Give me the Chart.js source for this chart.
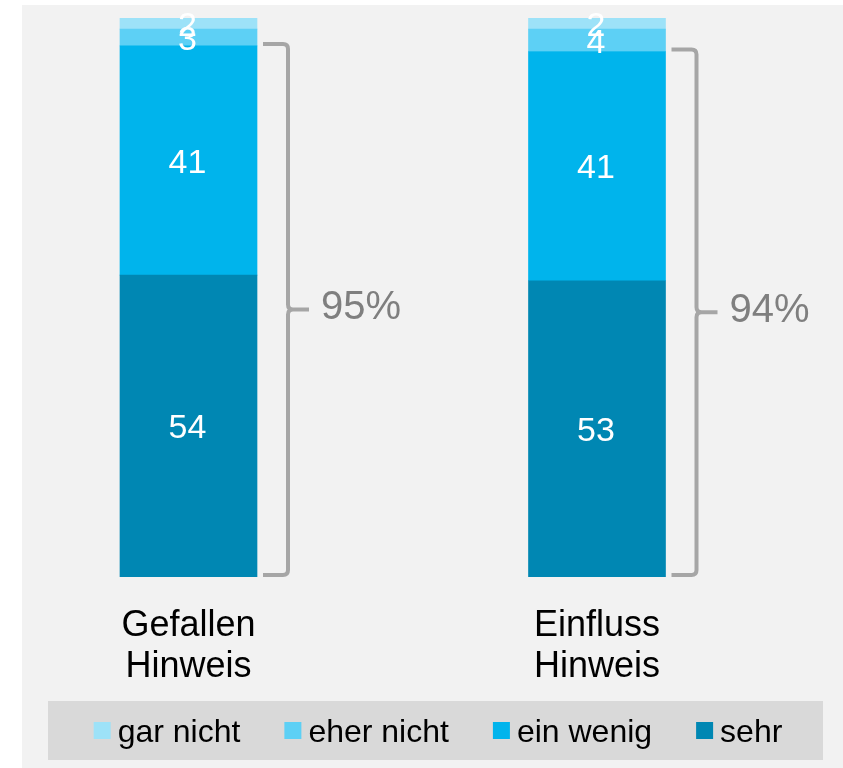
<!DOCTYPE html>
<html><head><meta charset="utf-8">
<script src="https://cdn.jsdelivr.net/npm/chart.js@4.4.1/dist/chart.umd.min.js"></script>
<style>
html,body{margin:0;padding:0;background:#fff;overflow:hidden;width:843px;height:768px}
#panel{position:absolute;left:22px;top:5px;width:821px;height:763px;background:#f2f2f2}
#wrap{position:absolute;left:-24px;top:0;width:880px;height:768px}
</style></head><body>
<div id="panel"></div>
<div id="wrap"><canvas id="c" width="880" height="768"></canvas></div>
<script>
const categories = [["Gefallen","Hinweis"],["Einfluss","Hinweis"]];
const seriesNames = ["sehr","ein wenig","eher nicht","gar nicht"];
const sehr = [54,53];
const einWenig = [41,41];
const eherNicht = [3,4];
const garNicht = [2,2];
const seriesColors = ["#0087b3","#00b4ec","#5dd0f5","#9de2f8"];

const FONT = '"Liberation Sans", Arial, sans-serif';
const OFF = 24; // canvas offset relative to page

const overlay = {
  id: 'overlay',
  afterDatasetsDraw(chart) {
    const ctx = chart.ctx, xs = chart.scales.x, ys = chart.scales.y;
    ctx.save();
    // segment labels
    ctx.fillStyle = '#ffffff';
    ctx.font = '34px ' + FONT;
    ctx.textAlign = 'center';
    ctx.textBaseline = 'alphabetic';
    chart.data.datasets.forEach((ds, di) => {
      const meta = chart.getDatasetMeta(di);
      meta.data.forEach((bar, i) => {
        const p = bar.getProps(['x','y','base'], true);
        const cy = (p.y + p.base) / 2;
        ctx.fillText(String(ds.data[i]), p.x - 1, cy + 34 * 0.358);
      });
    });
    // category labels
    ctx.fillStyle = '#000000';
    ctx.font = '36px ' + FONT;
    categories.forEach((lines, i) => {
      const x = xs.getPixelForValue(i);
      lines.forEach((t, li) => ctx.fillText(t, x, 636 + li * 41));
    });
    // brackets
    const meta0 = chart.getDatasetMeta(0);
    categories.forEach((c, i) => {
      const bar = meta0.data[i];
      const right = bar.x + bar.width / 2;
      const total = sehr[i] + einWenig[i];
      const top = ys.getPixelForValue(total) - 2;
      const bottom = ys.getPixelForValue(0) - 2;
      const mid = (top + bottom) / 2;
      const x0 = right + 6, xv = right + 31, xt = right + 52;
      const r = 5;
      ctx.strokeStyle = '#a6a6a6';
      ctx.lineWidth = 4;
      ctx.lineCap = 'butt';
      ctx.lineJoin = 'round';
      ctx.beginPath();
      ctx.moveTo(x0, top);
      ctx.lineTo(xv - r, top);
      ctx.quadraticCurveTo(xv, top, xv, top + r);
      ctx.lineTo(xv, mid - r);
      ctx.quadraticCurveTo(xv, mid, xv + r, mid);
      ctx.lineTo(xt, mid);
      ctx.moveTo(xv + r, mid);
      ctx.quadraticCurveTo(xv, mid, xv, mid + r);
      ctx.lineTo(xv, bottom - r);
      ctx.quadraticCurveTo(xv, bottom, xv - r, bottom);
      ctx.lineTo(x0, bottom);
      ctx.stroke();
      ctx.fillStyle = '#7f7f7f';
      ctx.font = '40px ' + FONT;
      ctx.textAlign = 'left';
      ctx.fillText(total + '%', right + 64, mid + 10);
      ctx.textAlign = 'center';
    });
    // legend
    const bx0 = 48 + OFF, bx1 = 823 + OFF, by0 = 701, by1 = 760;
    ctx.fillStyle = '#d9d9d9';
    ctx.fillRect(bx0, by0, bx1 - bx0, by1 - by0);
    ctx.font = '32px ' + FONT;
    const items = chart.data.datasets.map((d) => ({label: d.label, color: d.backgroundColor})).reverse();
    const sq = 17, gapT = 7, gapI = 44;
    const widths = items.map(it => sq + gapT + ctx.measureText(it.label).width);
    const totalW = widths.reduce((a, b) => a + b, 0) + gapI * (items.length - 1);
    let x = 438 + OFF - totalW / 2;
    const cy = 730.5;
    ctx.textAlign = 'left';
    ctx.textBaseline = 'alphabetic';
    items.forEach((it, k) => {
      ctx.fillStyle = it.color;
      ctx.fillRect(x, cy - sq / 2, sq, sq);
      ctx.fillStyle = '#000000';
      ctx.fillText(it.label, x + sq + gapT, cy + 11);
      x += widths[k] + gapI;
    });
    ctx.restore();
  }
};

const valueArrays = [sehr, einWenig, eherNicht, garNicht];
new Chart(document.getElementById('c'), {
  type: 'bar',
  data: {
    labels: categories.map(c => c.join(' ')),
    datasets: seriesNames.map((n, k) => ({
      label: n,
      data: valueArrays[k],
      backgroundColor: seriesColors[k],
      borderWidth: 0,
      barThickness: 137
    }))
  },
  options: {
    responsive: false,
    animation: false,
    layout: { padding: { left: 8.25, right: 54.75, top: 18, bottom: 191 } },
    plugins: { legend: { display: false }, tooltip: { enabled: false } },
    scales: {
      x: { stacked: true, display: false, offset: true },
      y: { stacked: true, display: false, min: 0, max: 100 }
    }
  },
  plugins: [overlay]
});
</script>
</body></html>
